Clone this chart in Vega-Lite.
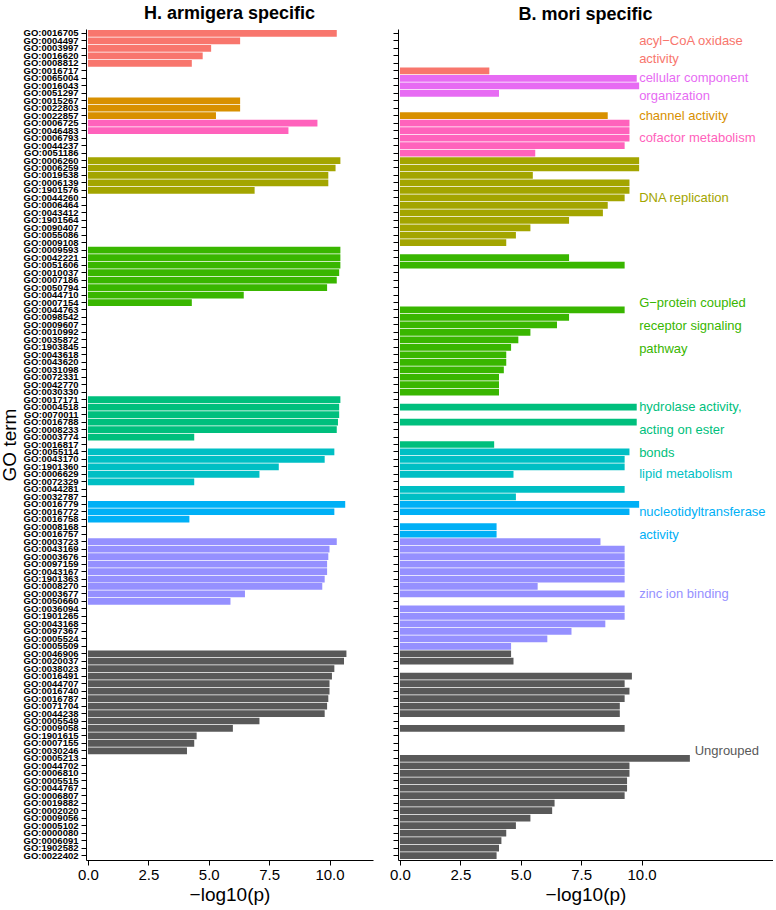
{
  "$schema": "https://vega.github.io/schema/vega-lite/v6.json",
  "padding": {"left": 0, "right": 0, "top": 4, "bottom": 2},
  "config": {
    "view": {"stroke": null},
    "font": "Liberation Sans",
    "axis": {"grid": false, "domainColor": "#000", "tickColor": "#000", "labelColor": "#000", "titleColor": "#000", "titleFontWeight": "normal", "labelFont": "Liberation Sans", "titleFont": "Liberation Sans", "domainWidth": 1, "tickWidth": 1},
    "title": {"fontSize": 18, "fontWeight": "bold", "font": "Liberation Sans", "color": "#000", "anchor": "middle", "offset": 5},
    "concat": {"spacing": 16}
  },
  "datasets": {
    "bars": [
      {"sp":"H","term":"GO:0016705","grp":"acyl","v":10.3},
      {"sp":"H","term":"GO:0004497","grp":"acyl","v":6.3},
      {"sp":"H","term":"GO:0003997","grp":"acyl","v":5.1},
      {"sp":"H","term":"GO:0016620","grp":"acyl","v":4.75},
      {"sp":"H","term":"GO:0008812","grp":"acyl","v":4.3},
      {"sp":"H","term":"GO:0015267","grp":"chan","v":6.3},
      {"sp":"H","term":"GO:0022803","grp":"chan","v":6.3},
      {"sp":"H","term":"GO:0022857","grp":"chan","v":5.3},
      {"sp":"H","term":"GO:0006725","grp":"cof","v":9.5},
      {"sp":"H","term":"GO:0046483","grp":"cof","v":8.3},
      {"sp":"H","term":"GO:0006260","grp":"dna","v":10.45},
      {"sp":"H","term":"GO:0006259","grp":"dna","v":10.25},
      {"sp":"H","term":"GO:0019538","grp":"dna","v":9.95},
      {"sp":"H","term":"GO:0006139","grp":"dna","v":9.95},
      {"sp":"H","term":"GO:1901576","grp":"dna","v":6.9},
      {"sp":"H","term":"GO:0009593","grp":"gpcr","v":10.45},
      {"sp":"H","term":"GO:0042221","grp":"gpcr","v":10.45},
      {"sp":"H","term":"GO:0051606","grp":"gpcr","v":10.45},
      {"sp":"H","term":"GO:0010037","grp":"gpcr","v":10.4},
      {"sp":"H","term":"GO:0007186","grp":"gpcr","v":10.3},
      {"sp":"H","term":"GO:0050794","grp":"gpcr","v":9.9},
      {"sp":"H","term":"GO:0044710","grp":"gpcr","v":6.45},
      {"sp":"H","term":"GO:0007154","grp":"gpcr","v":4.3},
      {"sp":"H","term":"GO:0017171","grp":"hyd","v":10.45},
      {"sp":"H","term":"GO:0004518","grp":"hyd","v":10.4},
      {"sp":"H","term":"GO:0070011","grp":"hyd","v":10.4},
      {"sp":"H","term":"GO:0016788","grp":"hyd","v":10.35},
      {"sp":"H","term":"GO:0008233","grp":"hyd","v":10.3},
      {"sp":"H","term":"GO:0003774","grp":"hyd","v":4.4},
      {"sp":"H","term":"GO:0055114","grp":"lip","v":10.2},
      {"sp":"H","term":"GO:0043170","grp":"lip","v":9.8},
      {"sp":"H","term":"GO:1901360","grp":"lip","v":7.9},
      {"sp":"H","term":"GO:0006629","grp":"lip","v":7.1},
      {"sp":"H","term":"GO:0072329","grp":"lip","v":4.4},
      {"sp":"H","term":"GO:0016779","grp":"nuc","v":10.65},
      {"sp":"H","term":"GO:0016772","grp":"nuc","v":10.2},
      {"sp":"H","term":"GO:0016758","grp":"nuc","v":4.2},
      {"sp":"H","term":"GO:0003723","grp":"zinc","v":10.3},
      {"sp":"H","term":"GO:0043169","grp":"zinc","v":10.0},
      {"sp":"H","term":"GO:0003676","grp":"zinc","v":9.95},
      {"sp":"H","term":"GO:0097159","grp":"zinc","v":9.9},
      {"sp":"H","term":"GO:0043167","grp":"zinc","v":9.9},
      {"sp":"H","term":"GO:1901363","grp":"zinc","v":9.8},
      {"sp":"H","term":"GO:0008270","grp":"zinc","v":9.7},
      {"sp":"H","term":"GO:0003677","grp":"zinc","v":6.5},
      {"sp":"H","term":"GO:0050660","grp":"zinc","v":5.9},
      {"sp":"H","term":"GO:0046906","grp":"ung","v":10.7},
      {"sp":"H","term":"GO:0020037","grp":"ung","v":10.6},
      {"sp":"H","term":"GO:0038023","grp":"ung","v":10.2},
      {"sp":"H","term":"GO:0016491","grp":"ung","v":10.1},
      {"sp":"H","term":"GO:0044707","grp":"ung","v":10.0},
      {"sp":"H","term":"GO:0016740","grp":"ung","v":10.0},
      {"sp":"H","term":"GO:0016787","grp":"ung","v":9.95},
      {"sp":"H","term":"GO:0071704","grp":"ung","v":9.9},
      {"sp":"H","term":"GO:0044238","grp":"ung","v":9.8},
      {"sp":"H","term":"GO:0005549","grp":"ung","v":7.1},
      {"sp":"H","term":"GO:0009058","grp":"ung","v":6.0},
      {"sp":"H","term":"GO:1901615","grp":"ung","v":4.5},
      {"sp":"H","term":"GO:0007155","grp":"ung","v":4.4},
      {"sp":"H","term":"GO:0030246","grp":"ung","v":4.1},
      {"sp":"B","term":"GO:0016717","grp":"acyl","v":3.7},
      {"sp":"B","term":"GO:0065004","grp":"cell","v":9.8},
      {"sp":"B","term":"GO:0016043","grp":"cell","v":9.9},
      {"sp":"B","term":"GO:0051297","grp":"cell","v":4.1},
      {"sp":"B","term":"GO:0022857","grp":"chan","v":8.6},
      {"sp":"B","term":"GO:0006725","grp":"cof","v":9.5},
      {"sp":"B","term":"GO:0046483","grp":"cof","v":9.5},
      {"sp":"B","term":"GO:0006793","grp":"cof","v":9.5},
      {"sp":"B","term":"GO:0044237","grp":"cof","v":9.3},
      {"sp":"B","term":"GO:0051186","grp":"cof","v":5.6},
      {"sp":"B","term":"GO:0006260","grp":"dna","v":9.9},
      {"sp":"B","term":"GO:0006259","grp":"dna","v":9.9},
      {"sp":"B","term":"GO:0019538","grp":"dna","v":5.5},
      {"sp":"B","term":"GO:0006139","grp":"dna","v":9.5},
      {"sp":"B","term":"GO:1901576","grp":"dna","v":9.5},
      {"sp":"B","term":"GO:0044260","grp":"dna","v":9.3},
      {"sp":"B","term":"GO:0006464","grp":"dna","v":8.6},
      {"sp":"B","term":"GO:0043412","grp":"dna","v":8.4},
      {"sp":"B","term":"GO:1901564","grp":"dna","v":7.0},
      {"sp":"B","term":"GO:0090407","grp":"dna","v":5.4},
      {"sp":"B","term":"GO:0055086","grp":"dna","v":4.8},
      {"sp":"B","term":"GO:0009108","grp":"dna","v":4.4},
      {"sp":"B","term":"GO:0042221","grp":"gpcr","v":7.0},
      {"sp":"B","term":"GO:0051606","grp":"gpcr","v":9.3},
      {"sp":"B","term":"GO:0044763","grp":"gpcr","v":9.3},
      {"sp":"B","term":"GO:0098542","grp":"gpcr","v":7.0},
      {"sp":"B","term":"GO:0009607","grp":"gpcr","v":6.5},
      {"sp":"B","term":"GO:0010992","grp":"gpcr","v":5.4},
      {"sp":"B","term":"GO:0035872","grp":"gpcr","v":4.9},
      {"sp":"B","term":"GO:1903845","grp":"gpcr","v":4.6},
      {"sp":"B","term":"GO:0043618","grp":"gpcr","v":4.4},
      {"sp":"B","term":"GO:0043620","grp":"gpcr","v":4.4},
      {"sp":"B","term":"GO:0031098","grp":"gpcr","v":4.3},
      {"sp":"B","term":"GO:0072331","grp":"gpcr","v":4.1},
      {"sp":"B","term":"GO:0042770","grp":"gpcr","v":4.1},
      {"sp":"B","term":"GO:0030330","grp":"gpcr","v":4.1},
      {"sp":"B","term":"GO:0004518","grp":"hyd","v":9.8},
      {"sp":"B","term":"GO:0016788","grp":"hyd","v":9.8},
      {"sp":"B","term":"GO:0016817","grp":"hyd","v":3.9},
      {"sp":"B","term":"GO:0055114","grp":"lip","v":9.5},
      {"sp":"B","term":"GO:0043170","grp":"lip","v":9.3},
      {"sp":"B","term":"GO:1901360","grp":"lip","v":9.3},
      {"sp":"B","term":"GO:0006629","grp":"lip","v":4.7},
      {"sp":"B","term":"GO:0044281","grp":"lip","v":9.3},
      {"sp":"B","term":"GO:0032787","grp":"lip","v":4.8},
      {"sp":"B","term":"GO:0016779","grp":"nuc","v":9.9},
      {"sp":"B","term":"GO:0016772","grp":"nuc","v":9.5},
      {"sp":"B","term":"GO:0008168","grp":"nuc","v":4.0},
      {"sp":"B","term":"GO:0016757","grp":"nuc","v":4.0},
      {"sp":"B","term":"GO:0003723","grp":"zinc","v":8.3},
      {"sp":"B","term":"GO:0043169","grp":"zinc","v":9.3},
      {"sp":"B","term":"GO:0003676","grp":"zinc","v":9.3},
      {"sp":"B","term":"GO:0097159","grp":"zinc","v":9.3},
      {"sp":"B","term":"GO:0043167","grp":"zinc","v":9.3},
      {"sp":"B","term":"GO:1901363","grp":"zinc","v":9.3},
      {"sp":"B","term":"GO:0008270","grp":"zinc","v":5.7},
      {"sp":"B","term":"GO:0003677","grp":"zinc","v":9.3},
      {"sp":"B","term":"GO:0036094","grp":"zinc","v":9.3},
      {"sp":"B","term":"GO:1901265","grp":"zinc","v":9.3},
      {"sp":"B","term":"GO:0043168","grp":"zinc","v":8.5},
      {"sp":"B","term":"GO:0097367","grp":"zinc","v":7.1},
      {"sp":"B","term":"GO:0005524","grp":"zinc","v":6.1},
      {"sp":"B","term":"GO:0005509","grp":"zinc","v":4.6},
      {"sp":"B","term":"GO:0046906","grp":"ung","v":4.6},
      {"sp":"B","term":"GO:0020037","grp":"ung","v":4.7},
      {"sp":"B","term":"GO:0016491","grp":"ung","v":9.6},
      {"sp":"B","term":"GO:0044707","grp":"ung","v":9.3},
      {"sp":"B","term":"GO:0016740","grp":"ung","v":9.5},
      {"sp":"B","term":"GO:0016787","grp":"ung","v":9.3},
      {"sp":"B","term":"GO:0071704","grp":"ung","v":9.1},
      {"sp":"B","term":"GO:0044238","grp":"ung","v":9.1},
      {"sp":"B","term":"GO:0009058","grp":"ung","v":9.3},
      {"sp":"B","term":"GO:0005213","grp":"ung","v":12.0},
      {"sp":"B","term":"GO:0044702","grp":"ung","v":9.5},
      {"sp":"B","term":"GO:0006810","grp":"ung","v":9.5},
      {"sp":"B","term":"GO:0005515","grp":"ung","v":9.4},
      {"sp":"B","term":"GO:0044767","grp":"ung","v":9.4},
      {"sp":"B","term":"GO:0006807","grp":"ung","v":9.3},
      {"sp":"B","term":"GO:0019882","grp":"ung","v":6.4},
      {"sp":"B","term":"GO:0002020","grp":"ung","v":6.3},
      {"sp":"B","term":"GO:0009056","grp":"ung","v":5.4},
      {"sp":"B","term":"GO:0005102","grp":"ung","v":4.8},
      {"sp":"B","term":"GO:0000080","grp":"ung","v":4.4},
      {"sp":"B","term":"GO:0006091","grp":"ung","v":4.2},
      {"sp":"B","term":"GO:1902582","grp":"ung","v":4.1},
      {"sp":"B","term":"GO:0022402","grp":"ung","v":4.0}
    ],
    "labels": [
      {"grp":"acyl","term":"GO:0004497","text":"acyl−CoA oxidase\nactivity"},
      {"grp":"cell","term":"GO:0065004","text":"cellular component\norganization"},
      {"grp":"chan","term":"GO:0022857","text":"channel activity"},
      {"grp":"cof","term":"GO:0006793","text":"cofactor metabolism"},
      {"grp":"dna","term":"GO:0044260","text":"DNA replication"},
      {"grp":"gpcr","term":"GO:0007154","text":"G−protein coupled\nreceptor signaling\npathway"},
      {"grp":"hyd","term":"GO:0004518","text":"hydrolase activity,\nacting on ester\nbonds"},
      {"grp":"lip","term":"GO:0006629","text":"lipid metabolism"},
      {"grp":"nuc","term":"GO:0016772","text":"nucleotidyltransferase\nactivity"},
      {"grp":"zinc","term":"GO:0003677","text":"zinc ion binding"},
      {"grp":"ung","term":"GO:0030246","text":"Ungrouped"}
    ]
  },
  "hconcat": [
    {
      "width": 287,
      "height": 831,
      "title": "H. armigera specific",
      "data": {"name": "bars"},
      "transform": [{"filter": "datum.sp === 'H'"}],
      "mark": {"type": "bar"},
      "encoding": {
        "y": {"field": "term", "type": "nominal",
          "scale": {"domain": ["GO:0016705","GO:0004497","GO:0003997","GO:0016620","GO:0008812","GO:0016717","GO:0065004","GO:0016043","GO:0051297","GO:0015267","GO:0022803","GO:0022857","GO:0006725","GO:0046483","GO:0006793","GO:0044237","GO:0051186","GO:0006260","GO:0006259","GO:0019538","GO:0006139","GO:1901576","GO:0044260","GO:0006464","GO:0043412","GO:1901564","GO:0090407","GO:0055086","GO:0009108","GO:0009593","GO:0042221","GO:0051606","GO:0010037","GO:0007186","GO:0050794","GO:0044710","GO:0007154","GO:0044763","GO:0098542","GO:0009607","GO:0010992","GO:0035872","GO:1903845","GO:0043618","GO:0043620","GO:0031098","GO:0072331","GO:0042770","GO:0030330","GO:0017171","GO:0004518","GO:0070011","GO:0016788","GO:0008233","GO:0003774","GO:0016817","GO:0055114","GO:0043170","GO:1901360","GO:0006629","GO:0072329","GO:0044281","GO:0032787","GO:0016779","GO:0016772","GO:0016758","GO:0008168","GO:0016757","GO:0003723","GO:0043169","GO:0003676","GO:0097159","GO:0043167","GO:1901363","GO:0008270","GO:0003677","GO:0050660","GO:0036094","GO:1901265","GO:0043168","GO:0097367","GO:0005524","GO:0005509","GO:0046906","GO:0020037","GO:0038023","GO:0016491","GO:0044707","GO:0016740","GO:0016787","GO:0071704","GO:0044238","GO:0005549","GO:0009058","GO:1901615","GO:0007155","GO:0030246","GO:0005213","GO:0044702","GO:0006810","GO:0005515","GO:0044767","GO:0006807","GO:0019882","GO:0002020","GO:0009056","GO:0005102","GO:0000080","GO:0006091","GO:1902582","GO:0022402"], "paddingInner": 0.1, "paddingOuter": 0.15},
          "axis": {"title": "GO term", "titleFontSize": 19, "labelFontSize": 9.5, "labelFontWeight": "bold", "tickSize": 5, "labelPadding": 3, "titlePadding": 4}},
        "x": {"field": "v", "type": "quantitative",
          "scale": {"domain": [-0.08, 11.8], "nice": false},
          "axis": {"values": [0, 2.5, 5, 7.5, 10], "format": ".1f", "title": "−log10(p)", "titleFontSize": 19, "labelFontSize": 15, "tickSize": 5, "labelPadding": 2, "titlePadding": 3}},
        "color": {"field": "grp", "type": "nominal",
          "scale": {"domain": ["acyl","cell","chan","cof","dna","gpcr","hyd","lip","nuc","zinc","ung"], "range": ["#F8766D","#E76BF3","#D89000","#FF62BC","#A3A500","#39B600","#00BF7D","#00BFC4","#00B0F6","#9590FF","#595959"]},
          "legend": null}
      }
    },
    {
      "width": 375,
      "height": 831,
      "title": "B. mori specific",
      "encoding": {
        "y": {"field": "term", "type": "nominal",
          "scale": {"domain": ["GO:0016705","GO:0004497","GO:0003997","GO:0016620","GO:0008812","GO:0016717","GO:0065004","GO:0016043","GO:0051297","GO:0015267","GO:0022803","GO:0022857","GO:0006725","GO:0046483","GO:0006793","GO:0044237","GO:0051186","GO:0006260","GO:0006259","GO:0019538","GO:0006139","GO:1901576","GO:0044260","GO:0006464","GO:0043412","GO:1901564","GO:0090407","GO:0055086","GO:0009108","GO:0009593","GO:0042221","GO:0051606","GO:0010037","GO:0007186","GO:0050794","GO:0044710","GO:0007154","GO:0044763","GO:0098542","GO:0009607","GO:0010992","GO:0035872","GO:1903845","GO:0043618","GO:0043620","GO:0031098","GO:0072331","GO:0042770","GO:0030330","GO:0017171","GO:0004518","GO:0070011","GO:0016788","GO:0008233","GO:0003774","GO:0016817","GO:0055114","GO:0043170","GO:1901360","GO:0006629","GO:0072329","GO:0044281","GO:0032787","GO:0016779","GO:0016772","GO:0016758","GO:0008168","GO:0016757","GO:0003723","GO:0043169","GO:0003676","GO:0097159","GO:0043167","GO:1901363","GO:0008270","GO:0003677","GO:0050660","GO:0036094","GO:1901265","GO:0043168","GO:0097367","GO:0005524","GO:0005509","GO:0046906","GO:0020037","GO:0038023","GO:0016491","GO:0044707","GO:0016740","GO:0016787","GO:0071704","GO:0044238","GO:0005549","GO:0009058","GO:1901615","GO:0007155","GO:0030246","GO:0005213","GO:0044702","GO:0006810","GO:0005515","GO:0044767","GO:0006807","GO:0019882","GO:0002020","GO:0009056","GO:0005102","GO:0000080","GO:0006091","GO:1902582","GO:0022402"], "paddingInner": 0.1, "paddingOuter": 0.15},
          "axis": {"title": null, "labels": false, "tickSize": 5}},
        "color": {"field": "grp", "type": "nominal",
          "scale": {"domain": ["acyl","cell","chan","cof","dna","gpcr","hyd","lip","nuc","zinc","ung"], "range": ["#F8766D","#E76BF3","#D89000","#FF62BC","#A3A500","#39B600","#00BF7D","#00BFC4","#00B0F6","#9590FF","#595959"]},
          "legend": null}
      },
      "layer": [
        {
          "data": {"name": "bars"},
          "transform": [{"filter": "datum.sp === 'B'"}],
          "mark": {"type": "bar"},
          "encoding": {
            "x": {"field": "v", "type": "quantitative",
              "scale": {"domain": [-0.08, 15.44], "nice": false},
              "axis": {"values": [0, 2.5, 5, 7.5, 10], "format": ".1f", "title": "−log10(p)", "titleFontSize": 19, "labelFontSize": 15, "tickSize": 5, "labelPadding": 2, "titlePadding": 3}}
          }
        },
        {
          "data": {"name": "labels"},
          "transform": [{"filter": "indexof(['chan','cof','dna','lip','zinc'], datum.grp) >= 0"}],
          "mark": {"type": "text", "align": "left", "baseline": "middle", "fontSize": 13},
          "encoding": {"x": {"datum": 9.9}, "text": {"field": "text"}}
        },
        {
          "data": {"name": "labels"},
          "transform": [{"filter": "indexof(['acyl','cell'], datum.grp) >= 0"}],
          "mark": {"type": "text", "align": "left", "baseline": "middle", "fontSize": 13, "lineBreak": "\n", "lineHeight": 18},
          "encoding": {"x": {"datum": 9.9}, "text": {"field": "text"}}
        },
        {
          "data": {"name": "labels"},
          "transform": [{"filter": "indexof(['gpcr','hyd','nuc'], datum.grp) >= 0"}],
          "mark": {"type": "text", "align": "left", "baseline": "middle", "fontSize": 13, "lineBreak": "\n", "lineHeight": 23},
          "encoding": {"x": {"datum": 9.9}, "text": {"field": "text"}}
        },
        {
          "data": {"name": "labels"},
          "transform": [{"filter": "datum.grp === 'ung'"}],
          "mark": {"type": "text", "align": "left", "baseline": "middle", "fontSize": 13},
          "encoding": {"x": {"datum": 12.2}, "text": {"field": "text"}}
        }
      ]
    }
  ]
}
